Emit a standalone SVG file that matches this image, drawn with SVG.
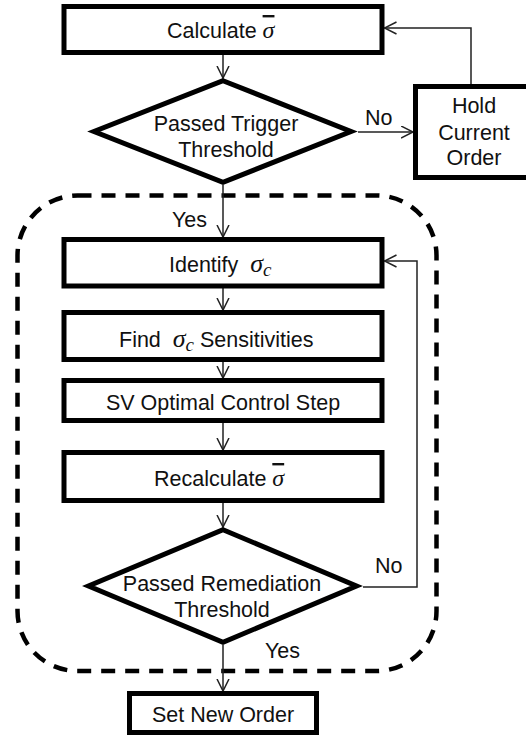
<svg xmlns="http://www.w3.org/2000/svg" width="526" height="738" viewBox="0 0 526 738">
<defs>
<marker id="arr" markerUnits="userSpaceOnUse" markerWidth="14" markerHeight="14" refX="12.5" refY="6.5" orient="auto">
<path d="M0.5,0.5 L12.5,6.5 L0.5,12.5" fill="none" stroke="#222" stroke-width="1.5"/>
</marker>
<style>
.box{fill:#fff;stroke:#000;stroke-width:5;stroke-linejoin:miter}
.dia{fill:#fff;stroke:#000;stroke-width:5;stroke-linejoin:miter}
.t{font-family:"Liberation Sans",Arial,sans-serif;font-size:21.5px;fill:#111;white-space:pre}
.m{text-anchor:middle}
.sig{font-family:"Liberation Serif","Times New Roman",serif;font-style:italic;font-size:26px}
.sub{font-family:"Liberation Serif","Times New Roman",serif;font-style:italic;font-size:19px}
.c{fill:none;stroke:#222;stroke-width:1.5}
.dash{fill:none;stroke:#000;stroke-width:4.5;stroke-dasharray:14 10}
</style>
</defs>
<rect width="526" height="738" fill="#fff"/>

<g id="loop-region">
<rect class="dash" x="17.5" y="195.5" width="419" height="475.5" rx="60" ry="60"/>
</g>

<g id="connectors">
<path class="c" d="M223,55 V78" marker-end="url(#arr)"/>
<path class="c" d="M358,132 H413" marker-end="url(#arr)"/>
<path class="c" d="M471,84 V28 H384.5" marker-end="url(#arr)"/>
<path class="c" d="M223,185 V237" marker-end="url(#arr)"/>
<path class="c" d="M223,288 V310" marker-end="url(#arr)"/>
<path class="c" d="M223,362 V378" marker-end="url(#arr)"/>
<path class="c" d="M223,423 V450" marker-end="url(#arr)"/>
<path class="c" d="M223,503 V527" marker-end="url(#arr)"/>
<path class="c" d="M363,587 H417 V261 H384.5" marker-end="url(#arr)"/>
<path class="c" d="M223,645 V691" marker-end="url(#arr)"/>
<text class="t" x="365" y="125">No</text>
<text class="t" x="172" y="227">Yes</text>
<text class="t" x="375" y="573">No</text>
<text class="t" x="265" y="658">Yes</text>
</g>

<g id="calculate">
<rect class="box" x="64" y="6.5" width="318" height="46"/>
<text class="t" x="167" y="38">Calculate <tspan class="sig" style="font-size:24px;text-decoration:overline">σ</tspan></text>
</g>

<g id="trigger">
<polygon class="dia" points="223,80.7 351,131.5 223,182.3 94,131.5"/>
<text class="t m" x="226" y="131">Passed Trigger</text>
<text class="t m" x="226" y="157">Threshold</text>
</g>

<g id="hold">
<rect class="box" x="415.5" y="86.5" width="120" height="91"/>
<text class="t m" x="474" y="113">Hold</text>
<text class="t m" x="474" y="140">Current</text>
<text class="t m" x="474" y="165">Order</text>
</g>

<g id="identify">
<rect class="box" x="64" y="239.5" width="318" height="46.5"/>
<text class="t" x="169" y="272">Identify  <tspan class="sig">σ</tspan><tspan class="sub" dy="4">c</tspan></text>
</g>

<g id="find">
<rect class="box" x="64" y="312.5" width="318" height="47"/>
<text class="t" x="119" y="347">Find  <tspan class="sig">σ</tspan><tspan class="sub" dy="4">c</tspan><tspan dy="-4"> Sensitivities</tspan></text>
</g>

<g id="sv">
<rect class="box" x="64" y="380.5" width="318" height="40"/>
<text class="t m" x="223" y="410">SV Optimal Control Step</text>
</g>

<g id="recalculate">
<rect class="box" x="64" y="452.5" width="318" height="48"/>
<text class="t" x="154" y="486">Recalculate <tspan class="sig" style="font-size:24px;text-decoration:overline">σ</tspan></text>
</g>

<g id="remediation">
<polygon class="dia" points="223,529.7 356.5,586 223,642.3 88.5,586"/>
<text class="t m" x="222" y="591">Passed Remediation</text>
<text class="t m" x="222" y="617">Threshold</text>
</g>

<g id="set-new-order">
<rect class="box" x="129.5" y="693.5" width="187" height="39"/>
<text class="t m" x="223" y="722">Set New Order</text>
</g>
</svg>
